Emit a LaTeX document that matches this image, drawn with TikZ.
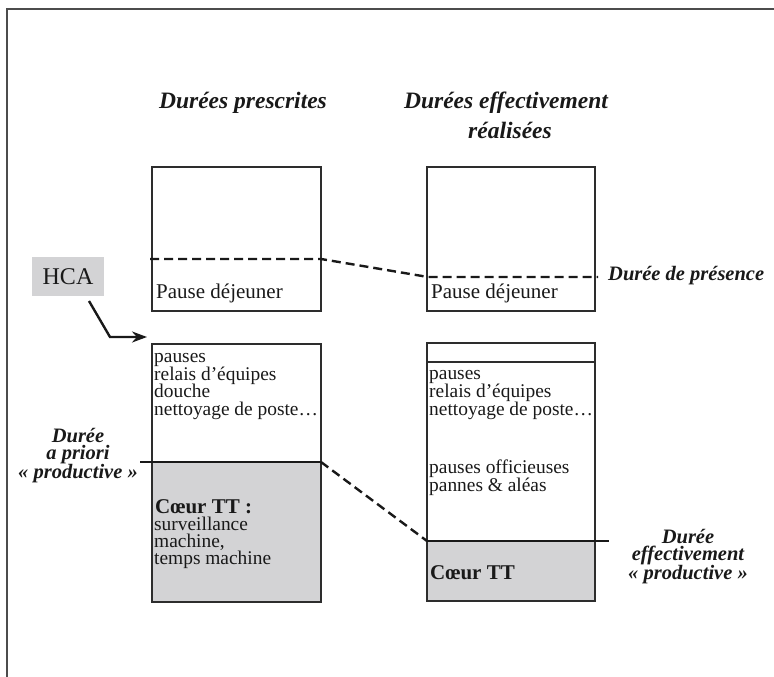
\documentclass[tikz,border=0pt]{standalone}
\usepackage{fontspec}
\setmainfont{Liberation Serif}
\usetikzlibrary{arrows.meta}
\definecolor{boxgray}{RGB}{211,211,213}
\definecolor{edge}{RGB}{45,45,45}
\tikzset{
  boxline/.style={draw=edge, line width=1.4pt},
  sepline/.style={draw=black!90, line width=2.8pt},
  dashline/.style={draw=black!90, line width=2.4pt, dash pattern=on 9pt off 5pt},
  boxtxt/.style={anchor=base west, inner sep=0pt, font=\fontsize{19.4}{18}\selectfont, text=black!90},
  bigtxt/.style={anchor=base west, inner sep=0pt, font=\fontsize{21}{21}\selectfont, text=black!90},
  cortxt/.style={anchor=base west, inner sep=0pt, font=\fontsize{21}{21}\selectfont\bfseries, text=black!90},
  lbltxt/.style={anchor=base, inner sep=0pt, font=\fontsize{20.5}{16.5}\selectfont\bfseries\itshape, text=black!90},
  lblblock/.style={anchor=center, inner sep=0pt, align=center, font=\fontsize{20.5}{16.5}\selectfont\bfseries\itshape, text=black!90},
  titletxt/.style={anchor=base, inner sep=0pt, font=\fontsize{23.5}{24}\selectfont\bfseries\itshape, text=black!90}
}
\begin{document}
\begin{tikzpicture}[x=1pt,y=-1pt]
\useasboundingbox (0,0) rectangle (774,677);
% frame
\draw[line width=1.8pt, draw=black!70] (7,677) -- (7,9) -- (774,9);

% titles
\node[titletxt] (t1) at (243,109) {Durées prescrites};
\node[titletxt] (t2a) at (506,109) {Durées effectivement};
\node[titletxt] (t2b) at (510,138) {réalisées};

% upper boxes
\coordinate (lu1) at (152,167); \coordinate (lu2) at (321,311);
\coordinate (ru1) at (427,167); \coordinate (ru2) at (595,311);
\draw[boxline] (lu1) rectangle (lu2);
\draw[boxline] (ru1) rectangle (ru2);
\node[bigtxt] (pdl) at (156,298) {Pause déjeuner};
\node[bigtxt] (pdr) at (431,298) {Pause déjeuner};

% lower boxes
\coordinate (ll1) at (152,344); \coordinate (ll2) at (321,602);
\coordinate (lsep) at (321,462);
\coordinate (rl1) at (427,343); \coordinate (rl2) at (595,601);
\coordinate (rsep) at (427,541);
\fill[boxgray] (152,462) rectangle (ll2);
\fill[boxgray] (rsep) rectangle (rl2);
\draw[boxline] (ll1) rectangle (ll2);
\draw[boxline] (rl1) rectangle (rl2);
\draw[boxline] (427,362) -- (595,362);

% texts left lower
\node[boxtxt] (a1) at (154,362) {pauses};
\node[boxtxt] (a2) at (154,380) {relais d’équipes};
\node[boxtxt] (a3) at (154,397.5) {douche};
\node[boxtxt] (a4) at (154,415) {nettoyage de poste…};
\node[cortxt] (c1) at (155,513) {Cœur TT :};
\node[boxtxt] (c2) at (154,530) {surveillance};
\node[boxtxt] (c3) at (154,547) {machine,};
\node[boxtxt] (c4) at (154,564) {temps machine};

% texts right lower
\node[boxtxt] (b1) at (429,379) {pauses};
\node[boxtxt] (b2) at (429,397) {relais d’équipes};
\node[boxtxt] (b3) at (429,415) {nettoyage de poste…};
\node[boxtxt] (b4) at (429,473) {pauses officieuses};
\node[boxtxt] (b5) at (429,491) {pannes \& aléas};
\node[cortxt] (d1) at (430,579) {Cœur TT};

% presence line
\coordinate (p0) at (150,259); \coordinate (p1) at (321,259);
\coordinate (p2) at (428,277); \coordinate (p3) at (598,277);
\draw[dashline] (p0) -- (p1) -- (p2) -- (p3);
\node[lbltxt, anchor=base west] (pres) at (608,280) {Durée de présence};

% productive lines
\coordinate (q0) at (140,462);
\coordinate (q3) at (609,541);
\draw[sepline] (q0) -- (lsep);
\draw[dashline] (lsep) -- (rsep);
\draw[sepline] (rsep) -- (q3);

\node[lblblock] (la) at (78,456) {Durée\\a priori\\« productive »};
\node[lblblock] (ra) at (688,557) {Durée\\effectivement\\« productive »};

% HCA
\node[fill=boxgray, minimum width=72pt, minimum height=39pt, inner sep=0pt,
      font=\fontsize{24}{24}\selectfont, text=black!90] (hca) at (68,276.5) {HCA};
\coordinate (h0) at (89,301);
\coordinate (h1) at (110,337);
\coordinate (h2) at (147,337);
\draw[line width=2.4pt, draw=black!90, -{Stealth[length=15pt,width=11pt]}] (h0) -- (h1) -- (h2);
\end{tikzpicture}
\end{document}
